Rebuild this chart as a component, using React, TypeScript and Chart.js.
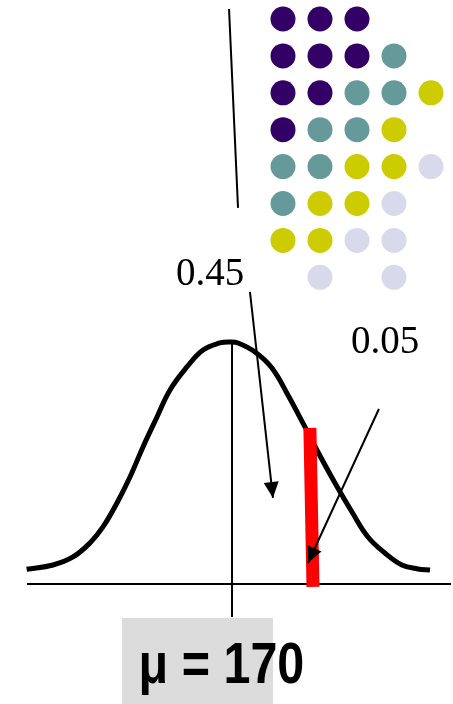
import { useEffect, useRef } from "react";
import { Chart, registerables } from "chart.js";

Chart.register(...registerables);

const WIDTH = 453;
const HEIGHT = 704;

// Height in cm on x, curve height as % of its peak on y
const X_MIN = 152.15;
const X_MAX = 187.0;
const Y_MIN = -49.6;
const Y_MAX = 241.3;

const MEAN = 170;

// Bell curve of the population heights
const curveX = [
  154.2, 156.23, 157.77, 159.07, 160.07, 161.15, 162.15, 163.15, 164.23, 165.23,
  166.53, 167.77, 169.07, 169.84, 170.46, 171.77, 173.07, 174.3, 175.61, 176.61,
  177.92, 179.23, 180.46, 181.76, 183.07, 184.3, 185.23,
];
const curveY = [
  6.07, 7.85, 11.16, 16.94, 23.55, 33.47, 44.21, 56.61, 69.01, 80.17,
  89.67, 96.69, 99.59, 100.0, 99.59, 95.87, 89.26, 78.1, 64.88, 54.55,
  41.74, 29.75, 19.42, 12.81, 7.85, 6.2, 5.79,
];

// Horizontal axis and the line through the mean
const axisX = [154.23, 186.85];
const meanLineY = [99.6, -13.6];

// Line leading up to the sample of dots
const pointerX = [169.77, 170.46];
const pointerY = [237.6, 155.4];

// Red cut-off bar
const cutoffX = [175.99, 176.23];
const cutoffY = [64.46, -1.24];

// Probability labels and their arrows
const areaLabels = ["0.45", "0.05"];
const labelX = [165.69, 179.15];
const labelY = [123.55, 95.45];
const arrowFromX = [171.38, 181.3];
const arrowFromY = [120.66, 72.31];
const arrowToX = [173.15, 175.84];
const arrowToY = [35.54, 8.68];

// Mean label under the axis
const meanLabel = "\u03bc = " + MEAN;
const meanLabelX = 163.07;
const meanLabelY = -40.9;
const meanLabelWidth = 12.38;
const meanBoxX = [161.53, 173.15];
const meanBoxY = [-14.05, Y_MIN];

// Grid of dots: column, row and group of each dot
const GRID_X_MIN = -7.6486;
const GRID_X_MAX = 4.5946;
const GRID_Y_MIN = -0.5149;
const GRID_Y_MAX = 18.564;
const dotCol = [0, 1, 2, 0, 1, 2, 3, 0, 1, 2, 3, 4, 0, 1, 2, 3, 0, 1, 2, 3, 4, 0, 1, 2, 3, 0, 1, 2, 3, 1, 3];
const dotRow = [0, 0, 0, 1, 1, 1, 1, 2, 2, 2, 2, 2, 3, 3, 3, 3, 4, 4, 4, 4, 4, 5, 5, 5, 5, 6, 6, 6, 6, 7, 7];
const dotGroup = [0, 0, 0, 0, 0, 0, 1, 0, 0, 1, 1, 2, 0, 1, 1, 2, 1, 1, 2, 2, 3, 1, 2, 2, 3, 2, 2, 3, 3, 3, 3];
const groupColors = ["#330066", "#669999", "#CCCC00", "#D9D9EC"];

const arrowHeads = {
  id: "arrowHeads",
  afterDatasetsDraw(chart: any) {
    const ctx = chart.ctx;
    chart.data.datasets.forEach((ds: any, i: number) => {
      if (!ds.arrow) return;
      const pts = chart.getDatasetMeta(i).data;
      const a = pts[pts.length - 2];
      const b = pts[pts.length - 1];
      const ang = Math.atan2(b.y - a.y, b.x - a.x);
      const len = 16;
      const half = 7.5;
      ctx.save();
      ctx.fillStyle = "#000";
      ctx.beginPath();
      ctx.moveTo(b.x, b.y);
      ctx.lineTo(
        b.x - len * Math.cos(ang) + half * Math.sin(ang),
        b.y - len * Math.sin(ang) - half * Math.cos(ang)
      );
      ctx.lineTo(
        b.x - len * Math.cos(ang) - half * Math.sin(ang),
        b.y - len * Math.sin(ang) + half * Math.cos(ang)
      );
      ctx.closePath();
      ctx.fill();
      ctx.restore();
    });
  },
};

const annotations = {
  id: "annotations",
  beforeDatasetsDraw(chart: any) {
    const ctx = chart.ctx;
    const sx = chart.scales.x;
    const sy = chart.scales.y;
    const x0 = sx.getPixelForValue(meanBoxX[0]);
    const x1 = sx.getPixelForValue(meanBoxX[1]);
    const y0 = sy.getPixelForValue(meanBoxY[0]);
    const y1 = sy.getPixelForValue(meanBoxY[1]);
    ctx.save();
    ctx.fillStyle = "#DCDCDC";
    ctx.fillRect(x0, y0, x1 - x0, y1 - y0);
    ctx.restore();
  },
  afterDatasetsDraw(chart: any) {
    const ctx = chart.ctx;
    const sx = chart.scales.x;
    const sy = chart.scales.y;
    ctx.save();
    ctx.fillStyle = "#000";
    ctx.textBaseline = "alphabetic";
    ctx.textAlign = "left";
    ctx.font = '39px "Liberation Serif"';
    areaLabels.forEach((t, i) => {
      ctx.fillText(t, sx.getPixelForValue(labelX[i]), sy.getPixelForValue(labelY[i]));
    });

    ctx.font = 'bold 57px "Liberation Sans"';
    const m = ctx.measureText(meanLabel);
    const ink = m.actualBoundingBoxLeft + m.actualBoundingBoxRight;
    const target = sx.getPixelForValue(meanLabelX + meanLabelWidth) - sx.getPixelForValue(meanLabelX);
    ctx.translate(sx.getPixelForValue(meanLabelX), sy.getPixelForValue(meanLabelY));
    ctx.scale(target / ink, 1);
    ctx.fillText(meanLabel, m.actualBoundingBoxLeft, 0);
    ctx.restore();
  },
};

function segment(xs: number[], ys: number[]) {
  return xs.map((x, i) => ({ x, y: ys[i] }));
}

export default function App() {
  const ref = useRef<HTMLCanvasElement | null>(null);

  useEffect(() => {
    if (!ref.current) return;
    const plain = { pointRadius: 0, fill: false, borderCapStyle: "butt", tension: 0 };
    const chart = new Chart(ref.current, {
      type: "line",
      data: {
        datasets: [
          {
            ...plain,
            label: "0.45",
            data: [
              { x: arrowFromX[0], y: arrowFromY[0] },
              { x: arrowToX[0], y: arrowToY[0] },
            ],
            borderColor: "#000",
            borderWidth: 2,
            order: 0,
            arrow: true,
          } as any,
          {
            ...plain,
            label: "0.05",
            data: [
              { x: arrowFromX[1], y: arrowFromY[1] },
              { x: arrowToX[1], y: arrowToY[1] },
            ],
            borderColor: "#000",
            borderWidth: 2,
            order: 0,
            arrow: true,
          } as any,
          {
            ...plain,
            label: "cut-off",
            data: segment(cutoffX, cutoffY),
            borderColor: "#FF0000",
            borderWidth: 13,
            order: 1,
          } as any,
          {
            ...plain,
            label: "mean",
            data: segment([MEAN, MEAN], meanLineY),
            borderColor: "#000",
            borderWidth: 2,
            order: 2,
          } as any,
          {
            ...plain,
            label: "pointer",
            data: segment(pointerX, pointerY),
            borderColor: "#000",
            borderWidth: 2,
            order: 2,
          } as any,
          {
            ...plain,
            label: "heights",
            data: segment(curveX, curveY),
            borderColor: "#000",
            borderWidth: 5,
            borderJoinStyle: "round",
            tension: 0.4,
            order: 3,
          } as any,
          {
            ...plain,
            label: "axis",
            data: segment(axisX, [0, 0]),
            borderColor: "#000",
            borderWidth: 2,
            order: 4,
          } as any,
          {
            label: "sample",
            data: dotCol.map((c, i) => ({ x: c, y: dotRow[i] })),
            xAxisID: "gx",
            yAxisID: "gy",
            showLine: false,
            pointRadius: 12.5,
            pointHoverRadius: 12.5,
            pointBorderWidth: 0,
            pointBackgroundColor: dotGroup.map((g) => groupColors[g]),
            pointBorderColor: dotGroup.map((g) => groupColors[g]),
            order: 5,
          } as any,
        ],
      },
      options: {
        animation: false,
        responsive: false,
        devicePixelRatio: 1,
        layout: { padding: 0, autoPadding: false },
        events: [],
        plugins: { legend: { display: false }, tooltip: { enabled: false } },
        scales: {
          x: { type: "linear", min: X_MIN, max: X_MAX, display: false },
          y: { type: "linear", min: Y_MIN, max: Y_MAX, display: false },
          gx: { type: "linear", min: GRID_X_MIN, max: GRID_X_MAX, display: false },
          gy: { type: "linear", min: GRID_Y_MIN, max: GRID_Y_MAX, reverse: true, display: false },
        },
      } as any,
      plugins: [annotations, arrowHeads],
    });
    return () => chart.destroy();
  }, []);

  return (
    <div style={{ position: "absolute", left: 0, top: 0, width: WIDTH, height: HEIGHT, background: "#fff" }}>
      <canvas ref={ref} width={WIDTH} height={HEIGHT} style={{ display: "block" }} />
    </div>
  );
}
